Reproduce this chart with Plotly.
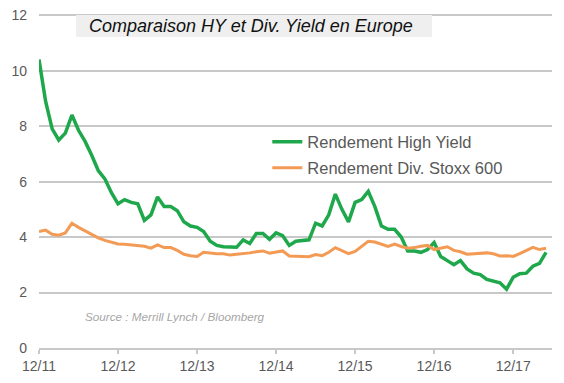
import plotly.graph_objects as go

# Monthly index: 0 = Dec 2011
tick_labels = ["12/11", "12/12", "12/13", "12/14", "12/15", "12/16", "12/17"]
tick_months = [0, 12, 24, 36, 48, 60, 72]

high_yield = [
    10.4, 8.9, 7.9, 7.5, 7.75, 8.4, 7.85, 7.45, 6.95, 6.4,
    6.1, 5.6, 5.2, 5.35, 5.25, 5.2, 4.6, 4.8, 5.45, 5.1,
    5.1, 4.95, 4.55, 4.4, 4.35, 4.2, 3.85, 3.7, 3.65, 3.63,
    3.63, 3.9, 3.77, 4.13, 4.13, 3.92, 4.15, 4.05, 3.7, 3.85,
    3.87, 3.9, 4.5, 4.4, 4.8, 5.55, 5.0, 4.55, 5.25, 5.35,
    5.65, 5.1, 4.4, 4.28, 4.28, 4.0, 3.5, 3.5, 3.45, 3.55,
    3.8, 3.3, 3.15, 3.0, 3.15, 2.85, 2.7, 2.65, 2.47, 2.42,
    2.35, 2.12, 2.55, 2.68, 2.7, 2.95, 3.05, 3.45,
]
div_yield = [
    4.2, 4.25, 4.1, 4.07, 4.15, 4.5, 4.35, 4.22, 4.1, 3.97,
    3.88, 3.82, 3.75, 3.74, 3.72, 3.7, 3.67, 3.6, 3.72, 3.62,
    3.62, 3.52, 3.38, 3.33, 3.3, 3.45, 3.42, 3.4, 3.4, 3.35,
    3.38, 3.4, 3.43, 3.47, 3.5, 3.42, 3.45, 3.5, 3.32, 3.32,
    3.3, 3.29, 3.37, 3.33, 3.45, 3.62, 3.5, 3.4, 3.48, 3.68,
    3.85, 3.82, 3.73, 3.66, 3.75, 3.66, 3.6, 3.62, 3.67, 3.7,
    3.55, 3.6, 3.65, 3.52, 3.47, 3.38, 3.4, 3.43, 3.43, 3.4,
    3.32, 3.33, 3.3, 3.4, 3.52, 3.63, 3.55, 3.6,
]
months = list(range(len(high_yield)))

GREEN = "#1ea84b"
ORANGE = "#f39a55"
GRAY_TXT = "#595959"
GRID = "#c8c8c8"
FONT = "Liberation Sans, Arial, sans-serif"

PH = 335.0  # plot height in px
PW = 513.0  # plot width in px


def py(v):  # viewport pixel y -> paper fraction
    return (348 - v) / PH


def px(v):  # viewport pixel x -> paper fraction
    return (v - 39) / PW


fig = go.Figure()
fig.add_trace(go.Scatter(
    x=months, y=high_yield, mode="lines", name="Rendement High Yield",
    line=dict(color=GREEN, width=3.5), legend="legend",
))
fig.add_trace(go.Scatter(
    x=months, y=div_yield, mode="lines", name="Rendement Div. Stoxx 600",
    line=dict(color=ORANGE, width=3), legend="legend2",
))

legend_common = dict(
    bgcolor="rgba(0,0,0,0)", borderwidth=0,
    font=dict(family=FONT, size=16.5, color=GRAY_TXT),
    xanchor="left", yanchor="middle", itemwidth=30,
)

# page body has an 8px margin, so the figure is sized to fit the 564x383 window
fig.update_layout(
    width=556, height=375,
    margin=dict(l=31, r=12, t=5, b=35, autoexpand=False),
    paper_bgcolor="white", plot_bgcolor="white",
    font=dict(family=FONT, size=14, color=GRAY_TXT),
    showlegend=True,
    legend=dict(x=0.445, y=py(142), **legend_common),
    legend2=dict(x=0.445, y=py(168), **legend_common),
    xaxis=dict(
        range=[0, 77.9], tickvals=tick_months, ticktext=tick_labels,
        showgrid=False, zeroline=False, showline=True, linecolor=GRID, linewidth=2,
        ticks="outside", ticklen=4, tickcolor=GRID, tickwidth=1.5,
        ticklabelstandoff=0, automargin=False,
        tickfont=dict(size=14, color=GRAY_TXT),
    ),
    yaxis=dict(
        range=[0, 12.08], tickvals=[0, 2, 4, 6, 8, 10, 12],
        showgrid=True, gridcolor=GRID, gridwidth=2,
        zeroline=False, showline=False, ticks="", ticklabelstandoff=11,
        ticklabeloverflow="allow", automargin=False,
        tickfont=dict(size=14, color=GRAY_TXT),
    ),
    shapes=[dict(
        type="rect", xref="paper", yref="paper",
        x0=px(76), x1=px(432), y0=py(37), y1=py(15),
        fillcolor="#efefef", line=dict(width=0), layer="above",
    )],
    annotations=[
        dict(
            text="<i>Comparaison HY et Div. Yield en Europe</i>",
            xref="paper", yref="paper", x=px(87), y=py(26),
            xanchor="left", yanchor="middle", showarrow=False,
            font=dict(family=FONT, size=18, color="#111111"),
        ),
        dict(
            text="<i>Source : Merrill Lynch / Bloomberg</i>",
            xref="paper", yref="paper", x=px(83), y=py(316),
            xanchor="left", yanchor="middle", showarrow=False,
            font=dict(family=FONT, size=11.7, color="#a6a6a6"),
        ),
    ],
)

fig.write_html("out.html")
